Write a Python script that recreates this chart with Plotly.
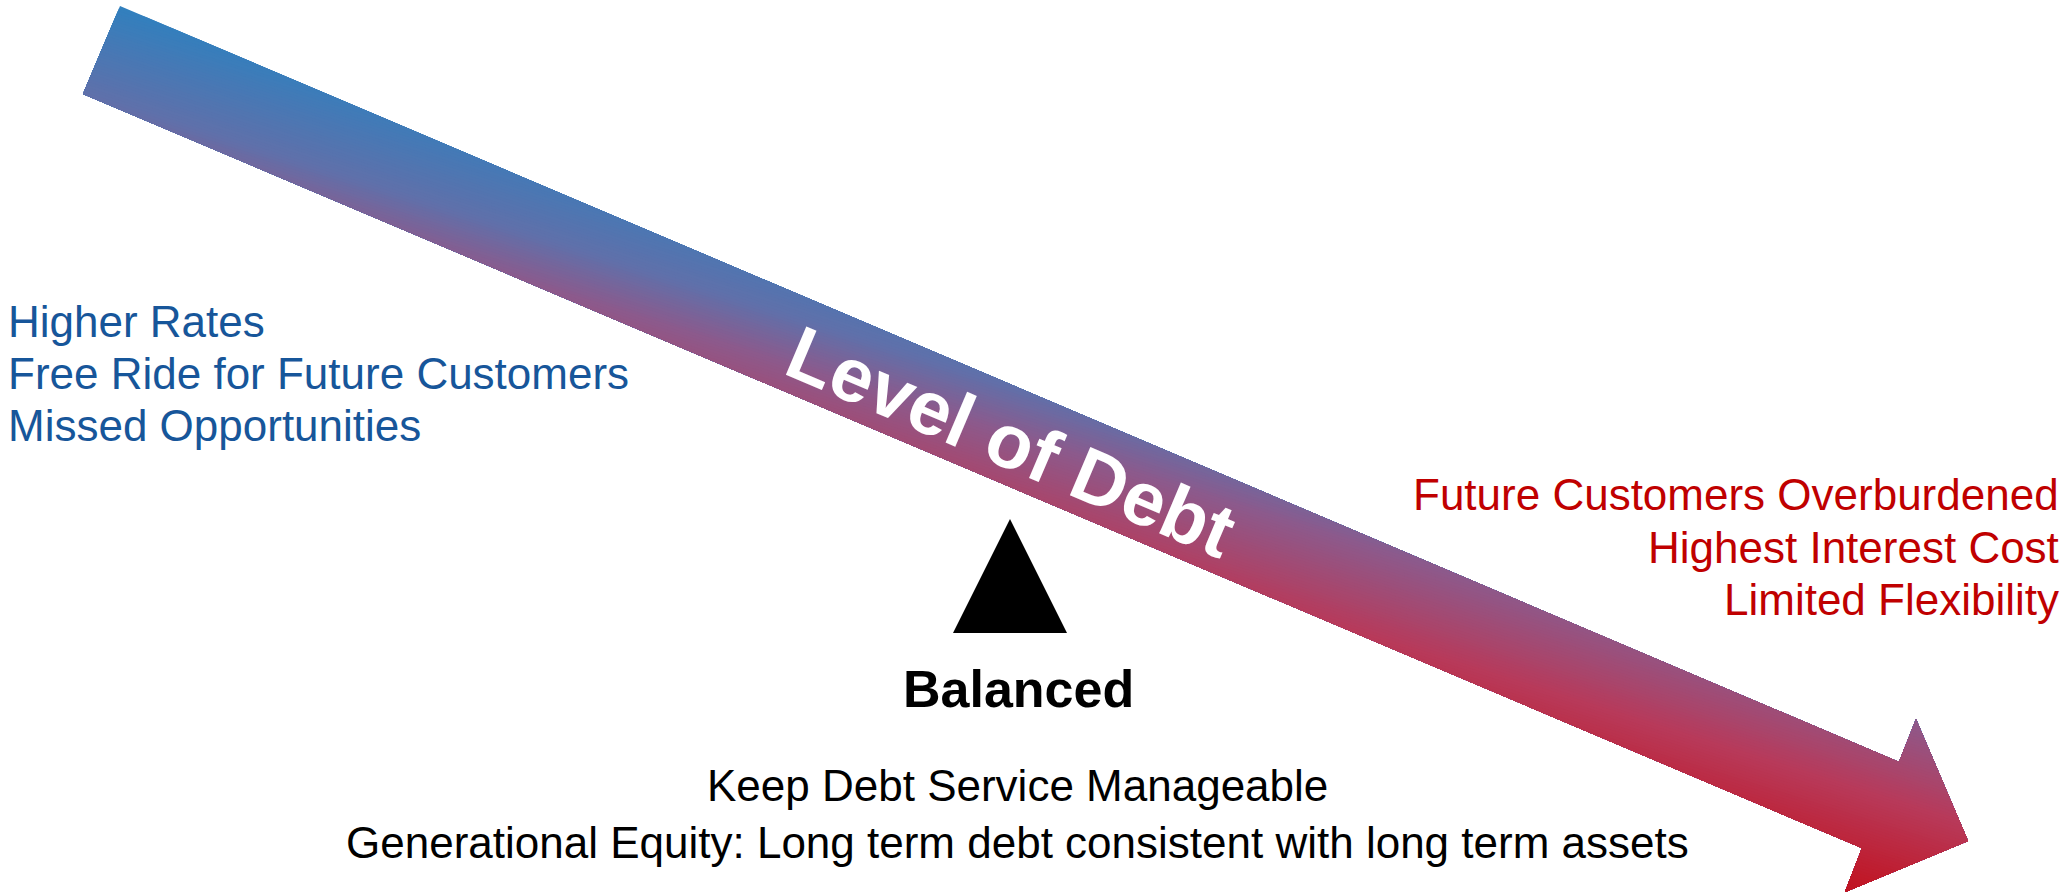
import plotly.graph_objects as go

W, H = 2072, 894

# ---- geometry of the diagram (pixel coordinates, y downward) ----
arrow_x = [120, 1899, 1916, 1968, 1845, 1862, 83]
arrow_y = [6, 762, 719, 841, 892, 848, 94]

fulcrum_x = [953, 1010, 1067]
fulcrum_y = [633, 519, 633]

# gradient colour stops (position along gradient, rgb)
grad_pos = [0.0, 0.29, 0.43, 0.69, 0.95, 1.0]
grad_rgb = [(49, 128, 190), (96, 112, 170), (140, 90, 140),
            (184, 58, 90), (192, 24, 40), (192, 20, 35)]
grad_dir = (-0.30, 0.954)

# ---- texts ----
left_lines = ["Higher Rates", "Free Ride for Future Customers", "Missed Opportunities"]
left_y = [321, 373, 425]
right_lines = ["Future Customers Overburdened", "Highest Interest Cost", "Limited Flexibility"]
right_y = [494, 547, 599]
center_lines = ["Keep Debt Service Manageable",
                "Generational Equity: Long term debt consistent with long term assets"]
center_y = [785, 842]
title_text = "Level of Debt"
balanced_text = "Balanced"

BLUE = "#17569A"
RED = "#C00000"
FONT = "Liberation Sans, Arial, sans-serif"


def tval(x, y):
    return grad_dir[0] * x + grad_dir[1] * y


def clip(poly, t0):
    out = []
    n = len(poly)
    for i in range(n):
        p, q = poly[i], poly[(i + 1) % n]
        tp, tq = tval(*p) - t0, tval(*q) - t0
        if tp >= 0:
            out.append(p)
        if (tp >= 0) != (tq >= 0):
            f = tp / (tp - tq)
            out.append((p[0] + f * (q[0] - p[0]), p[1] + f * (q[1] - p[1])))
    return out


def colour(f):
    for i in range(len(grad_pos) - 1):
        if grad_pos[i] <= f <= grad_pos[i + 1]:
            u = (f - grad_pos[i]) / (grad_pos[i + 1] - grad_pos[i])
            a, b = grad_rgb[i], grad_rgb[i + 1]
            return "rgb(%d,%d,%d)" % tuple(round(a[k] + u * (b[k] - a[k])) for k in range(3))
    return "rgb(%d,%d,%d)" % grad_rgb[-1]


poly = list(zip(arrow_x, arrow_y))
ts = [tval(x, y) for x, y in poly]
tmin, tmax = min(ts), max(ts)
N = 120
shapes = []
for i in range(N):
    t0 = tmin + (tmax - tmin) * i / N
    part = poly if i == 0 else clip(poly, t0)
    if len(part) < 3:
        continue
    path = "M " + " L ".join("%.2f,%.2f" % p for p in part) + " Z"
    shapes.append(dict(type="path", path=path, xref="x", yref="y",
                       fillcolor=colour((i + 0.5) / N), line=dict(width=0),
                       layer="below"))

fpath = "M " + " L ".join("%d,%d" % p for p in zip(fulcrum_x, fulcrum_y)) + " Z"
shapes.append(dict(type="path", path=fpath, xref="x", yref="y",
                   fillcolor="black", line=dict(width=0)))

annotations = []
for txt, y in zip(left_lines, left_y):
    annotations.append(dict(x=6, y=y, text=txt, xanchor="left", yanchor="middle",
                            showarrow=False, font=dict(family=FONT, size=44, color=BLUE)))
for txt, y in zip(right_lines, right_y):
    annotations.append(dict(x=2061, y=y, text=txt, xanchor="right", yanchor="middle",
                            showarrow=False, font=dict(family=FONT, size=44, color=RED)))
for txt, y in zip(center_lines, center_y):
    annotations.append(dict(x=1017, y=y, text=txt, xanchor="center", yanchor="middle",
                            showarrow=False, font=dict(family=FONT, size=44, color="black")))
annotations.append(dict(x=1018, y=689, text="<b>%s</b>" % balanced_text, xanchor="center",
                        yanchor="middle", showarrow=False,
                        font=dict(family=FONT, size=52, color="black")))
annotations.append(dict(x=1011, y=441, text="<b>%s</b>" % title_text, xanchor="center",
                        yanchor="middle", showarrow=False, textangle=23,
                        font=dict(family=FONT, size=76, color="white")))

fig = go.Figure()
fig.add_trace(go.Scatter(x=[0, W], y=[0, H], mode="markers",
                         marker=dict(opacity=0), hoverinfo="skip", showlegend=False))
fig.update_layout(
    width=W, height=H, margin=dict(l=0, r=0, t=0, b=0),
    paper_bgcolor="white", plot_bgcolor="white",
    xaxis=dict(range=[0, W], visible=False, fixedrange=True),
    yaxis=dict(range=[H, 0], visible=False, fixedrange=True),
    shapes=shapes, annotations=annotations, showlegend=False,
)
fig.write_html("out.html", config={"displayModeBar": False},
               post_script="document.body.style.margin='0';document.body.style.overflow='hidden';")
